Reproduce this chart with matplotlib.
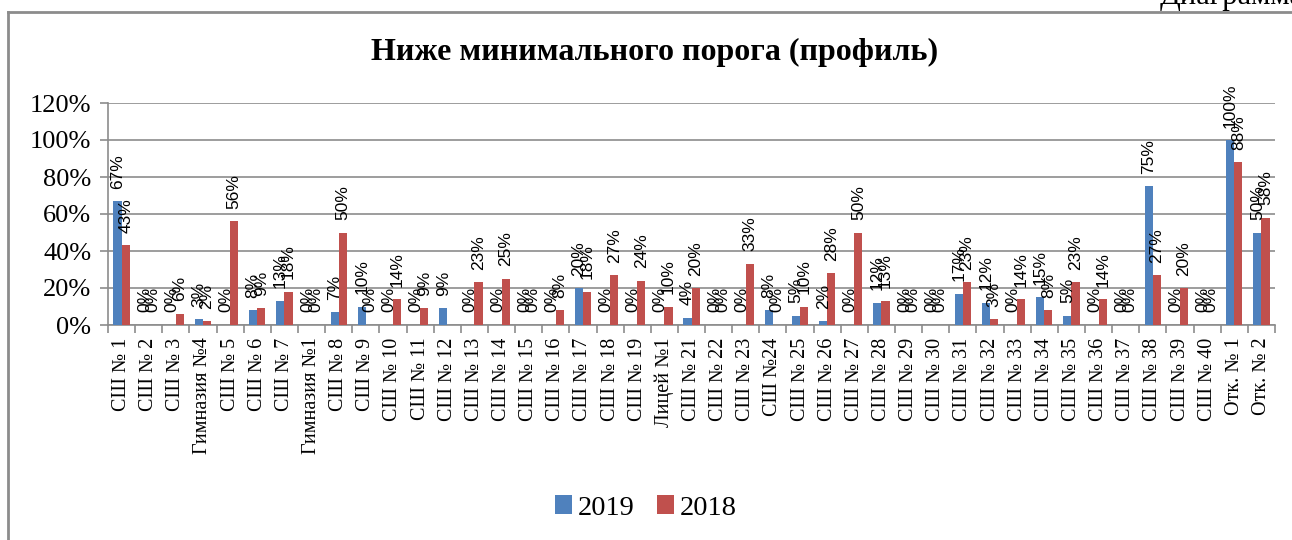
import matplotlib
matplotlib.use("Agg")
import matplotlib.pyplot as plt
import numpy as np
from matplotlib.lines import Line2D
from matplotlib.ticker import PercentFormatter

schools = ["СШ № 1", "СШ № 2", "СШ № 3", "Гимназия №4", "СШ № 5", "СШ № 6", "СШ № 7",
           "Гимназия №1", "СШ № 8", "СШ № 9", "СШ № 10", "СШ № 11", "СШ № 12", "СШ № 13",
           "СШ № 14", "СШ № 15", "СШ № 16", "СШ № 17", "СШ № 18", "СШ № 19", "Лицей №1",
           "СШ № 21", "СШ № 22", "СШ № 23", "СШ №24", "СШ № 25", "СШ № 26", "СШ № 27",
           "СШ № 28", "СШ № 29", "СШ № 30", "СШ № 31", "СШ № 32", "СШ № 33", "СШ № 34",
           "СШ № 35", "СШ № 36", "СШ № 37", "СШ № 38", "СШ № 39", "СШ № 40",
           "Отк. № 1", "Отк. № 2"]
y2019 = [67, 0, 0, 3, 0, 8, 13, 0, 7, 10, 0, 0, 9, 0, 0, 0, 0, 20, 0, 0, 0,
         4, 0, 0, 8, 5, 2, 0, 12, 0, 0, 17, 12, 0, 15, 5, 0, 0, 75, 0, 0, 100, 50]
y2018 = [43, 0, 6, 2, 56, 9, 18, 0, 50, 0, 14, 9, np.nan, 23, 25, 0, 8, 18, 27, 24, 10,
         20, 0, 33, 0, 10, 28, 50, 13, 0, 0, 23, 3, 14, 8, 23, 14, 0, 27, 20, 0, 88, 58]

blue = "#4F81BD"
red = "#C0504D"
grid_c = "#8C8C8C"

fig = plt.figure(figsize=(12.92, 5.4), dpi=100)
ax = fig.add_axes([108 / 1292, 1 - 325 / 540, (1275 - 108) / 1292, (325 - 103) / 540])

x = np.arange(len(schools))
w = 0.3
v19 = np.array(y2019, dtype=float) / 100
v18 = np.array(y2018, dtype=float) / 100
ax.bar(x - w / 2, v19, w, color=blue, label="2019", zorder=3)
ax.bar(x + w / 2, np.nan_to_num(v18), w, color=red, label="2018", zorder=3)

for xs, vals in ((x - w / 2, v19), (x + w / 2, v18)):
    for xi, v in zip(xs, vals):
        if np.isnan(v):
            continue
        ax.annotate(f"{v:.0%}", (xi, v), xytext=(0, 9), textcoords="offset points",
                    rotation=90, ha="center", va="bottom", fontsize=12.5,
                    family="Liberation Sans", color="black", zorder=4)

ax.set_ylim(0, 1.2)
ax.set_xlim(-0.5, len(schools) - 0.5)
ax.set_yticks(np.arange(0, 1.21, 0.2))
ax.yaxis.set_major_formatter(PercentFormatter(1.0, decimals=0))
ax.grid(axis="y", color=grid_c, lw=1.2, zorder=0)
ax.set_axisbelow(True)

ax.set_xticks(x)
ax.set_xticklabels(schools, rotation=90, family="Liberation Serif", fontsize=14.5)
ax.set_xticks(np.arange(-0.5, len(schools), 1), minor=True)
ax.tick_params(axis="x", which="major", length=0, pad=9)
ax.tick_params(axis="x", which="minor", length=6, color=grid_c, width=1.2)
ax.tick_params(axis="y", length=6, color=grid_c, width=1.2, pad=6)
for lab in ax.get_yticklabels():
    lab.set_family("Liberation Serif")
    lab.set_fontsize(19)

for s in ("top", "right"):
    ax.spines[s].set_visible(False)
for s in ("left", "bottom"):
    ax.spines[s].set_color(grid_c)
    ax.spines[s].set_linewidth(1.2)

fig.text(655 / 1292, 1 - 52 / 540, "Ниже минимального порога (профиль)",
         ha="center", va="center", family="Liberation Serif", fontweight="bold", fontsize=23)

ax.legend(loc="center", bbox_to_anchor=(0.5, 1 - 508 / 540), bbox_transform=fig.transFigure,
          ncol=2, frameon=False, handlelength=0.6, handleheight=0.6, handletextpad=0.2,
          columnspacing=0.8, prop={"family": "Liberation Serif", "size": 20.5})

# outer chart frame and the cut-off caption above it
fig.add_artist(Line2D([8 / 1292, 8 / 1292], [0, 1 - 12 / 540], transform=fig.transFigure,
                      color="#8C8C8C", lw=2))
fig.add_artist(Line2D([8 / 1292, 1], [1 - 12 / 540, 1 - 12 / 540], transform=fig.transFigure,
                      color="#8C8C8C", lw=2))
fig.text(1160 / 1292, 1 - 4 / 540, "Диаграмма", ha="left", va="baseline",
         family="Liberation Serif", fontsize=22)

fig.savefig("out.png", dpi=100)
